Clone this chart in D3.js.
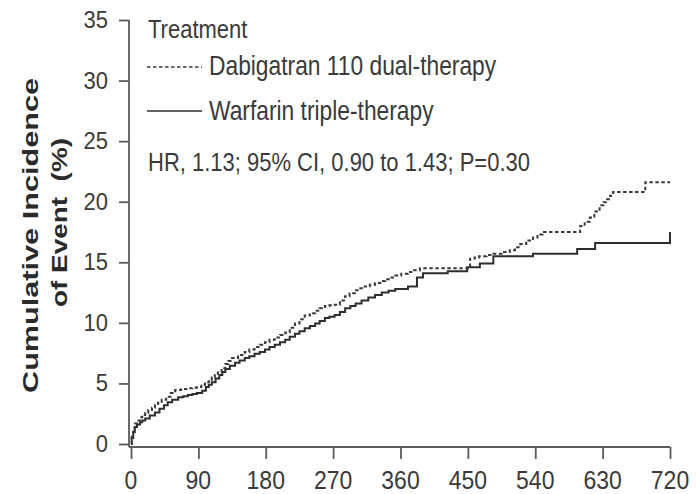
<!DOCTYPE html>
<html>
<head>
<meta charset="utf-8">
<script src="https://cdn.jsdelivr.net/npm/d3@7"></script>
<style>
  body { margin: 0; background: #fff; }
  svg { display: block; }
  .narrow { font-family: "Liberation Sans Narrow", "Arial Narrow", sans-serif; fill: #3a3a3a; }
</style>
</head>
<body>
<div id="chart"></div>
<script>
// days of follow-up, cumulative incidence (%)
var dabigatranDays = [0, 1, 3, 5, 8, 12, 15, 19, 23, 28, 32, 36, 41, 47, 53, 59, 67, 76, 82, 88, 94, 99, 104, 108, 112, 116, 121, 126, 130, 135, 143, 152, 158, 165, 172, 179, 185, 192, 199, 206, 212, 219, 225, 232, 239, 246, 252, 259, 265, 272, 279, 286, 292, 299, 305, 312, 319, 326, 333, 340, 346, 353, 361, 370, 378, 386, 453, 459, 465, 475, 484, 495, 506, 513, 520, 528, 537, 543, 550, 600, 606, 613, 619, 626, 631, 636, 640, 644, 687, 720];
var dabigatranVals = [0, 0.6, 1.2, 1.7, 1.95, 2.2, 2.4, 2.55, 2.8, 3.0, 3.2, 3.4, 3.65, 3.9, 4.2, 4.45, 4.55, 4.6, 4.65, 4.7, 4.9, 5.1, 5.3, 5.5, 5.7, 5.9, 6.25, 6.6, 6.85, 7.1, 7.35, 7.6, 7.8, 8.0, 8.2, 8.4, 8.6, 8.8, 9.0, 9.2, 9.6, 9.95, 10.3, 10.6, 10.8, 11.0, 11.2, 11.4, 11.45, 11.5, 11.85, 12.2, 12.45, 12.7, 12.85, 13.0, 13.15, 13.3, 13.45, 13.6, 13.75, 13.9, 14.05, 14.2, 14.35, 14.5, 15.3, 15.4, 15.5, 15.6, 15.7, 15.85, 16.0, 16.25, 16.5, 16.8, 17.05, 17.3, 17.5, 18.0, 18.35, 18.7, 19.2, 19.7, 19.95, 20.2, 20.5, 20.8, 21.6, 21.6];

var warfarinDays = [0, 1, 3, 5, 8, 12, 15, 19, 25, 32, 38, 44, 49, 55, 63, 70, 76, 82, 88, 95, 100, 104, 108, 113, 118, 122, 126, 132, 139, 145, 152, 158, 165, 172, 179, 185, 192, 199, 206, 212, 219, 225, 232, 239, 246, 252, 259, 265, 272, 279, 286, 293, 300, 308, 317, 326, 335, 344, 353, 370, 382, 390, 423, 449, 466, 484, 537, 596, 620, 720];
var warfarinVals = [0, 0.5, 1.0, 1.4, 1.6, 1.8, 1.95, 2.1, 2.35, 2.6, 2.9, 3.2, 3.45, 3.65, 3.85, 3.95, 4.05, 4.12, 4.2, 4.4, 4.7, 4.9, 5.1, 5.4, 5.7, 5.95, 6.2, 6.45, 6.7, 6.9, 7.1, 7.25, 7.45, 7.6, 7.8, 8.0, 8.2, 8.4, 8.6, 8.85, 9.1, 9.3, 9.55, 9.75, 9.95, 10.15, 10.4, 10.5, 10.65, 10.9, 11.2, 11.4, 11.6, 11.85, 12.1, 12.3, 12.5, 12.65, 12.8, 13.0, 13.75, 14.1, 14.25, 14.6, 14.9, 15.5, 15.7, 16.1, 16.6, 17.5];

var xTicks = [0, 90, 180, 270, 360, 450, 540, 630, 720];
var yTicks = [0, 5, 10, 15, 20, 25, 30, 35];

var legendTitle = "Treatment";
var seriesNames = ["Dabigatran 110 dual-therapy", "Warfarin triple-therapy"];
var statsText = "HR, 1.13; 95% CI, 0.90 to 1.43; P=0.30";
var yLabelLines = ["Cumulative Incidence", "of Event  (%)"];

var width = 698, height = 494;
var axisColor = "#5a5a5a", lineColor = "#2e2e2e";

var svg = d3.select("#chart").append("svg")
	.attr("width", width)
	.attr("height", height);

var x = d3.scaleLinear().domain([0, 720]).range([131, 670]);
var y = d3.scaleLinear().domain([0, 35]).range([444, 20]);

// stretched narrow text, like the scanned figure
function tallText(g, tx, ty, str, size, anchor, sy) {
	return g.append("text")
		.attr("class", "narrow")
		.attr("transform", "translate(" + tx + "," + ty + ") scale(1," + (sy || 1.18) + ")")
		.attr("text-anchor", anchor || "start")
		.style("font-size", size + "px")
		.text(str);
}

// axes
var yAxis = svg.append("g")
	.attr("transform", "translate(129,0)")
	.call(d3.axisLeft(y).tickValues(yTicks).tickSize(10).tickFormat(""));
var xAxis = svg.append("g")
	.attr("transform", "translate(0,447)")
	.call(d3.axisBottom(x).tickValues(xTicks).tickSize(12).tickFormat(""));

yAxis.select(".domain").attr("d", "M0,20V447");
xAxis.select(".domain").attr("d", "M129,0H" + x(720));
svg.selectAll(".domain, .tick line")
	.attr("stroke", axisColor)
	.attr("stroke-width", 1.8);

yTicks.forEach(function(t) {
	tallText(svg, 108, y(t) + 8, t, 22, "end", 1.05);
});
xTicks.forEach(function(t) {
	tallText(svg, x(t), 489, t, 23, "middle", 1.15);
});

// y label
yLabelLines.forEach(function(s, i) {
	svg.append("text")
		.attr("transform", "translate(" + [38, 67][i] + "," + [235.5, 222.5][i] + ") rotate(-90)")
		.attr("text-anchor", "middle")
		.attr("textLength", [315, 169][i])
		.attr("lengthAdjust", "spacingAndGlyphs")
		.style("font-family", "'Liberation Sans', Arial, sans-serif")
		.style("font-weight", "bold")
		.style("font-size", "22px")
		.style("white-space", "pre")
		.attr("fill", "#2a2a2a")
		.text(s);
});

// curves
var line = d3.line()
	.x(function(d) { return x(d[0]); })
	.y(function(d) { return y(d[1]); })
	.curve(d3.curveStepAfter);

var dabData = d3.zip(dabigatranDays, dabigatranVals);
var warData = d3.zip(warfarinDays, warfarinVals);

svg.append("path")
	.datum(warData)
	.attr("d", line)
	.attr("fill", "none")
	.attr("stroke", lineColor)
	.attr("stroke-width", 2);

svg.append("path")
	.datum(dabData)
	.attr("d", line)
	.attr("fill", "none")
	.attr("stroke", "#3a3a3a")
	.attr("stroke-width", 2)
	.attr("stroke-dasharray", "3.5,2.5");

// legend
var leg = svg.append("g");
tallText(leg, 148, 38, legendTitle, 22);
leg.append("line")
	.attr("x1", 147).attr("x2", 202)
	.attr("y1", 67).attr("y2", 67)
	.attr("stroke", "#3a3a3a")
	.attr("stroke-width", 1.6)
	.attr("stroke-dasharray", "3.5,2.5");
leg.append("line")
	.attr("x1", 147).attr("x2", 202)
	.attr("y1", 111).attr("y2", 111)
	.attr("stroke", lineColor)
	.attr("stroke-width", 1.6);
tallText(leg, 209, 75, seriesNames[0], 22.8);
tallText(leg, 209, 120, seriesNames[1], 22.8);
tallText(leg, 148, 171, statsText, 22);
</script>
</body>
</html>
